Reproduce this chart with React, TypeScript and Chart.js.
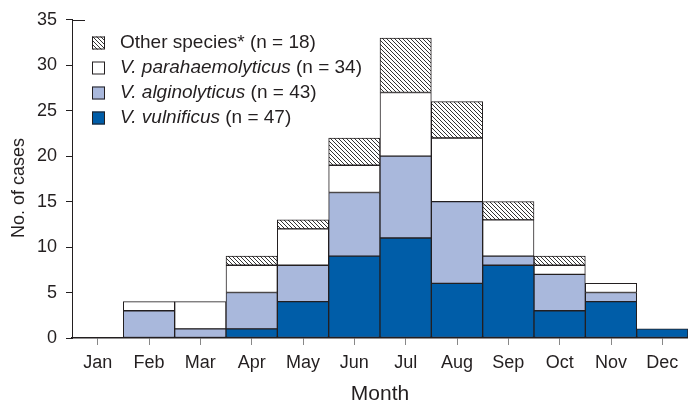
import { useEffect, useRef } from 'react';
import { Chart, registerables } from 'chart.js';

Chart.register(...registerables);

const months = ['Jan', 'Feb', 'Mar', 'Apr', 'May', 'Jun', 'Jul', 'Aug', 'Sep', 'Oct', 'Nov', 'Dec'];
const vulnificus = [0, 0, 0, 1, 4, 9, 11, 6, 8, 3, 4, 1];
const alginolyticus = [0, 3, 1, 4, 4, 7, 9, 9, 1, 4, 1, 0];
const parahaemolyticus = [0, 1, 3, 3, 4, 3, 7, 7, 4, 1, 1, 0];
const otherSpecies = [0, 0, 0, 1, 1, 3, 6, 4, 2, 1, 0, 0];

const legendItalic = ['', 'V. parahaemolyticus', 'V. alginolyticus', 'V. vulnificus'];
const legendNormal = ['Other species* (n = 18)', ' (n = 34)', ' (n = 43)', ' (n = 47)'];
const yTitle = 'No. of cases';

const FONT = '"Liberation Sans", Arial, Helvetica, sans-serif';
const TEXT = '#231f20';
const EDGE = '#231f20';
const BLUE = '#005da8';
const LIGHT = '#a9b8dc';

function makeHatch(): CanvasPattern | string {
  const c = document.createElement('canvas');
  c.width = 4;
  c.height = 4;
  const g = c.getContext('2d');
  if (!g) return '#fff';
  g.fillStyle = '#ffffff';
  g.fillRect(0, 0, 4, 4);
  g.strokeStyle = '#333333';
  g.lineWidth = 1;
  g.beginPath();
  g.moveTo(-1, -1);
  g.lineTo(5, 5);
  g.moveTo(-1, 3);
  g.lineTo(1, 5);
  g.moveTo(3, -1);
  g.lineTo(5, 1);
  g.stroke();
  const p = g.createPattern(c, 'repeat');
  return p || '#fff';
}

export default function App() {
  const ref = useRef<HTMLCanvasElement | null>(null);

  useEffect(() => {
    document.body.style.margin = '0';
    const canvas = ref.current;
    if (!canvas) return;
    const hatch = makeHatch();
    const fills = [hatch, '#ffffff', LIGHT, BLUE];

    const legendPlugin = {
      id: 'customLegend',
      afterDraw(chart: any) {
        const ctx = chart.ctx as CanvasRenderingContext2D;
        ctx.save();
        // top tick of the y axis crosses into the plot in the original figure
        const yScale = chart.scales.y;
        const yTop = Math.round(yScale.getPixelForValue(35)) + 0.5;
        ctx.strokeStyle = EDGE;
        ctx.lineWidth = 1;
        ctx.beginPath();
        ctx.moveTo(chart.chartArea.left, yTop);
        ctx.lineTo(chart.chartArea.left + 13, yTop);
        ctx.stroke();

        // y axis title
        ctx.save();
        ctx.translate(19, 188);
        ctx.rotate(-Math.PI / 2);
        ctx.fillStyle = TEXT;
        ctx.font = `18px ${FONT}`;
        ctx.textAlign = 'center';
        ctx.textBaseline = 'middle';
        ctx.fillText(yTitle, 0, 0);
        ctx.restore();

        const x0 = 92;
        const ys = [43, 68, 93, 118];
        for (let i = 0; i < 4; i++) {
          const y = ys[i];
          ctx.fillStyle = fills[i] as any;
          ctx.fillRect(x0, y - 6.5, 13, 13);
          ctx.strokeStyle = EDGE;
          ctx.lineWidth = 1;
          ctx.strokeRect(x0 + 0.5, y - 6, 12, 12);
          ctx.fillStyle = TEXT;
          ctx.textBaseline = 'middle';
          ctx.textAlign = 'left';
          let tx = 120;
          if (legendItalic[i]) {
            ctx.font = `italic 19px ${FONT}`;
            ctx.fillText(legendItalic[i], tx, y);
            tx += ctx.measureText(legendItalic[i]).width;
          }
          ctx.font = `19px ${FONT}`;
          ctx.fillText(legendNormal[i], tx, y);
        }
        ctx.restore();
      },
    };

    const common = {
      borderColor: EDGE,
      borderWidth: 1,
      borderSkipped: false,
      barPercentage: 1,
      categoryPercentage: 1,
    };

    const chart = new Chart(canvas, {
      type: 'bar',
      data: {
        labels: months,
        datasets: [
          { label: 'V. vulnificus (n = 47)', data: vulnificus, backgroundColor: BLUE, ...common },
          { label: 'V. alginolyticus (n = 43)', data: alginolyticus, backgroundColor: LIGHT, ...common },
          { label: 'V. parahaemolyticus (n = 34)', data: parahaemolyticus, backgroundColor: '#ffffff', ...common },
          { label: 'Other species* (n = 18)', data: otherSpecies, backgroundColor: hatch as any, ...common },
        ],
      },
      options: {
        responsive: false,
        animation: false,
        devicePixelRatio: 1,
        layout: { padding: { left: 0, right: -5, top: 0, bottom: 0 } },
        plugins: {
          legend: { display: false },
          tooltip: { enabled: false },
        },
        scales: {
          x: {
            stacked: true,
            grid: {
              display: true,
              drawOnChartArea: false,
              drawTicks: true,
              tickLength: 7,
              offset: false,
              color: '#888',
            },
            border: { display: true, color: EDGE, width: 1.5 },
            ticks: { color: TEXT, font: { family: FONT, size: 18 }, padding: 7, maxRotation: 0 },
            title: {
              display: true,
              text: 'Month',
              color: TEXT,
              font: { family: FONT, size: 21, lineHeight: 1 },
              padding: { top: 0, bottom: 1 },
            },
            afterFit(scale: any) {
              scale.height = 68;
            },
          },
          y: {
            stacked: true,
            min: 0,
            max: 35,
            ticks: { stepSize: 5, color: TEXT, font: { family: FONT, size: 18 }, padding: 9 },
            grid: {
              display: true,
              drawOnChartArea: false,
              drawTicks: true,
              tickLength: 6,
              color: EDGE,
            },
            border: { display: true, color: EDGE, width: 1 },
            title: { display: false },
            afterFit(scale: any) {
              scale.width = 72;
            },
          },
        },
      },
      plugins: [legendPlugin],
    });

    return () => chart.destroy();
  }, []);

  return (
    <div style={{ width: 688, height: 406 }}>
      <canvas ref={ref} width={688} height={406} style={{ display: 'block' }} />
    </div>
  );
}
